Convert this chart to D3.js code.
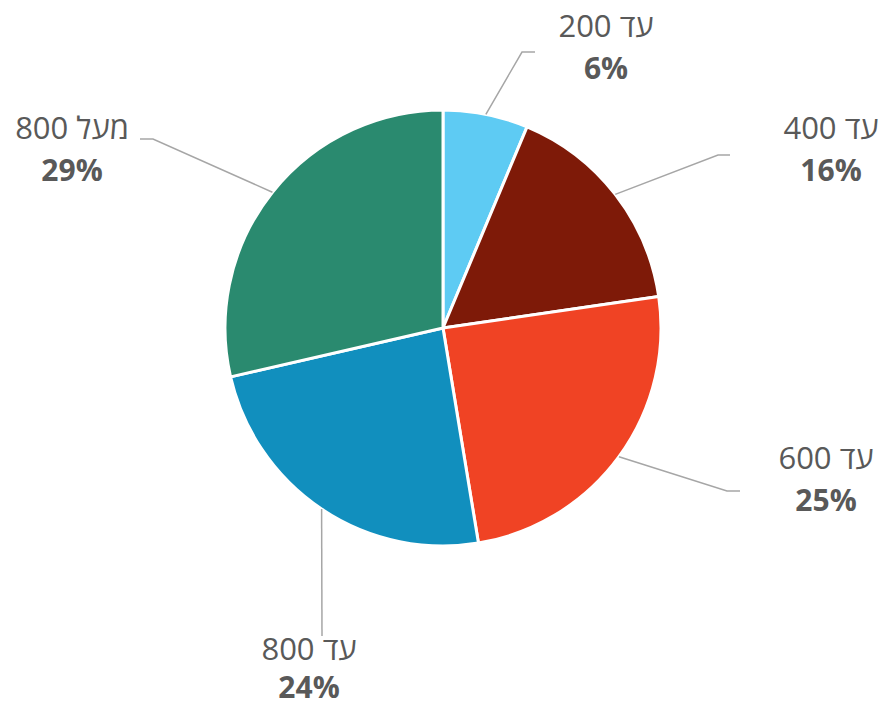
<!DOCTYPE html>
<html><head><meta charset="utf-8">
<script src="https://cdn.jsdelivr.net/npm/d3@7"></script>
<style>html,body{margin:0;padding:0;background:#fff}</style>
</head><body>
<svg id="chart" width="882" height="710"></svg>
<script>
const categories = ["עד 200", "עד 400", "עד 600", "עד 800", "מעל 800"];
const values = [6.3, 16.4, 24.7, 24.0, 28.6];
const percentLabels = ["6%", "16%", "25%", "24%", "29%"];
const colors = ["#5ECBF3", "#7E1A08", "#F04324", "#118FBE", "#2A8A6F"];

// label layout (elbow point, line end, text center x, first baseline, line gap)
const labelLayout = [
  {elbow:[522,52], end:[535,52], tx:606, ty:37, gap:42},
  {elbow:[718,155], end:[730,155], tx:831, ty:139, gap:42},
  {elbow:[727,491], end:[740,491], tx:826, ty:469, gap:42},
  {elbow:[322,636], end:[322,636], tx:309, ty:660, gap:38},
  {elbow:[153,139], end:[140,139], tx:72, ty:139, gap:42}
];

const cx = 443, cy = 328, R = 218;
const svg = d3.select("#chart");
const g = svg.append("g").attr("transform", `translate(${cx},${cy})`);

const pie = d3.pie().value(d => d).sort(null);
const arcs = pie(values);
const arc = d3.arc().innerRadius(0).outerRadius(R);
const edge = d3.arc().innerRadius(R).outerRadius(R);

g.selectAll("path.slice").data(arcs).join("path")
  .attr("class","slice")
  .attr("d", arc)
  .attr("fill", (d,i) => colors[i])
  .attr("stroke", "#fff")
  .attr("stroke-width", 3)
  .attr("stroke-linejoin", "round");

const line = d3.line();
arcs.forEach((d,i) => {
  const c = edge.centroid(d);
  const L = labelLayout[i];
  const pts = [[cx + c[0], cy + c[1]], L.elbow, L.end];
  svg.append("path")
    .attr("d", line(pts))
    .attr("fill","none")
    .attr("stroke","#A6A6A6")
    .attr("stroke-width",1.5);
  const t = svg.append("text")
    .attr("x", L.tx).attr("y", L.ty)
    .attr("text-anchor","middle")
    .attr("font-family","'Open Sans', sans-serif")
    .attr("fill","#595959");
  t.append("tspan").attr("x", L.tx).attr("y", L.ty)
    .attr("font-size", 31).text(categories[i]);
  t.append("tspan").attr("x", L.tx).attr("y", L.ty + L.gap)
    .attr("font-size", 30).attr("font-weight","bold").text(percentLabels[i]);
});
</script>
</body></html>
